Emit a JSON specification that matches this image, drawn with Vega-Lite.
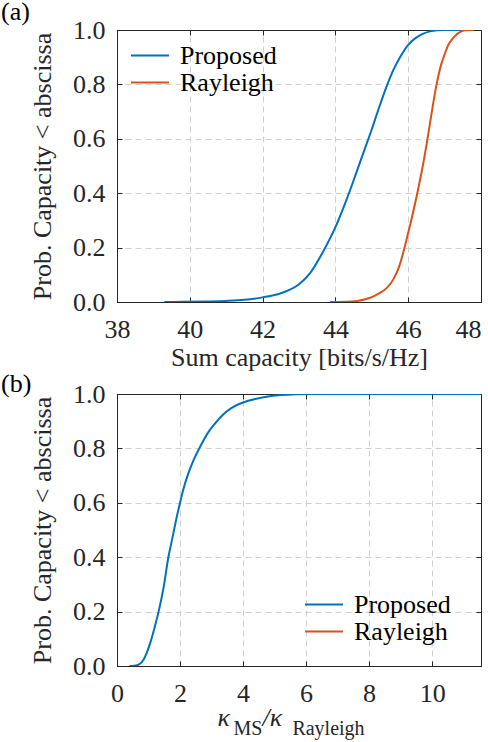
{
  "$schema": "https://vega.github.io/schema/vega-lite/v6.json",
  "autosize": "none",
  "padding": {"left": 117, "top": 30, "right": 371, "bottom": 712},
  "spacing": 92,
  "bounds": "flush",
  "datasets": {
    "capacity": [
      {"x": 39.3, "p": 0, "series": "Proposed"},
      {"x": 39.8, "p": 0.0005, "series": "Proposed"},
      {"x": 40.5, "p": 0.002, "series": "Proposed"},
      {"x": 41.0, "p": 0.004, "series": "Proposed"},
      {"x": 41.5, "p": 0.008, "series": "Proposed"},
      {"x": 42.0, "p": 0.017, "series": "Proposed"},
      {"x": 42.5, "p": 0.032, "series": "Proposed"},
      {"x": 43.0, "p": 0.065, "series": "Proposed"},
      {"x": 43.3, "p": 0.105, "series": "Proposed"},
      {"x": 43.6, "p": 0.17, "series": "Proposed"},
      {"x": 43.8, "p": 0.22, "series": "Proposed"},
      {"x": 44.0, "p": 0.275, "series": "Proposed"},
      {"x": 44.2, "p": 0.34, "series": "Proposed"},
      {"x": 44.4, "p": 0.41, "series": "Proposed"},
      {"x": 44.6, "p": 0.485, "series": "Proposed"},
      {"x": 44.8, "p": 0.56, "series": "Proposed"},
      {"x": 45.0, "p": 0.635, "series": "Proposed"},
      {"x": 45.2, "p": 0.715, "series": "Proposed"},
      {"x": 45.4, "p": 0.79, "series": "Proposed"},
      {"x": 45.6, "p": 0.855, "series": "Proposed"},
      {"x": 45.8, "p": 0.905, "series": "Proposed"},
      {"x": 46.0, "p": 0.945, "series": "Proposed"},
      {"x": 46.2, "p": 0.97, "series": "Proposed"},
      {"x": 46.4, "p": 0.986, "series": "Proposed"},
      {"x": 46.6, "p": 0.995, "series": "Proposed"},
      {"x": 46.8, "p": 0.999, "series": "Proposed"},
      {"x": 47.0, "p": 1.0, "series": "Proposed"},
      {"x": 47.6, "p": 1.0, "series": "Proposed"},
      {"x": 43.85, "p": 0, "series": "Rayleigh"},
      {"x": 44.3, "p": 0.001, "series": "Rayleigh"},
      {"x": 44.6, "p": 0.004, "series": "Rayleigh"},
      {"x": 45.0, "p": 0.018, "series": "Rayleigh"},
      {"x": 45.2, "p": 0.032, "series": "Rayleigh"},
      {"x": 45.4, "p": 0.05, "series": "Rayleigh"},
      {"x": 45.6, "p": 0.085, "series": "Rayleigh"},
      {"x": 45.75, "p": 0.13, "series": "Rayleigh"},
      {"x": 45.9, "p": 0.2, "series": "Rayleigh"},
      {"x": 46.0, "p": 0.255, "series": "Rayleigh"},
      {"x": 46.1, "p": 0.31, "series": "Rayleigh"},
      {"x": 46.25, "p": 0.4, "series": "Rayleigh"},
      {"x": 46.4, "p": 0.5, "series": "Rayleigh"},
      {"x": 46.53, "p": 0.6, "series": "Rayleigh"},
      {"x": 46.65, "p": 0.7, "series": "Rayleigh"},
      {"x": 46.78, "p": 0.8, "series": "Rayleigh"},
      {"x": 46.9, "p": 0.87, "series": "Rayleigh"},
      {"x": 47.0, "p": 0.91, "series": "Rayleigh"},
      {"x": 47.1, "p": 0.945, "series": "Rayleigh"},
      {"x": 47.2, "p": 0.965, "series": "Rayleigh"},
      {"x": 47.3, "p": 0.98, "series": "Rayleigh"},
      {"x": 47.42, "p": 0.992, "series": "Rayleigh"},
      {"x": 47.55, "p": 0.999, "series": "Rayleigh"},
      {"x": 47.8, "p": 1.0, "series": "Rayleigh"}
    ],
    "kappa": [
      {"x": 0.4, "p": 0, "series": "Proposed"},
      {"x": 0.55, "p": 0.001, "series": "Proposed"},
      {"x": 0.7, "p": 0.006, "series": "Proposed"},
      {"x": 0.85, "p": 0.025, "series": "Proposed"},
      {"x": 0.95, "p": 0.05, "series": "Proposed"},
      {"x": 1.05, "p": 0.083, "series": "Proposed"},
      {"x": 1.2, "p": 0.145, "series": "Proposed"},
      {"x": 1.32, "p": 0.2, "series": "Proposed"},
      {"x": 1.48, "p": 0.29, "series": "Proposed"},
      {"x": 1.63, "p": 0.4, "series": "Proposed"},
      {"x": 1.72, "p": 0.45, "series": "Proposed"},
      {"x": 1.81, "p": 0.5, "series": "Proposed"},
      {"x": 1.9, "p": 0.55, "series": "Proposed"},
      {"x": 2.0, "p": 0.6, "series": "Proposed"},
      {"x": 2.13, "p": 0.66, "series": "Proposed"},
      {"x": 2.27, "p": 0.71, "series": "Proposed"},
      {"x": 2.44, "p": 0.76, "series": "Proposed"},
      {"x": 2.61, "p": 0.8, "series": "Proposed"},
      {"x": 2.9, "p": 0.86, "series": "Proposed"},
      {"x": 3.1, "p": 0.89, "series": "Proposed"},
      {"x": 3.37, "p": 0.925, "series": "Proposed"},
      {"x": 3.65, "p": 0.95, "series": "Proposed"},
      {"x": 3.98, "p": 0.968, "series": "Proposed"},
      {"x": 4.35, "p": 0.981, "series": "Proposed"},
      {"x": 4.74, "p": 0.99, "series": "Proposed"},
      {"x": 5.2, "p": 0.996, "series": "Proposed"},
      {"x": 5.7, "p": 0.999, "series": "Proposed"},
      {"x": 6.2, "p": 1.0, "series": "Proposed"},
      {"x": 11.55, "p": 1.0, "series": "Proposed"}
    ]
  },
  "vconcat": [
    {
      "width": 364,
      "height": 272,
      "title": {"text": "(a)", "offset": -8, "dx": -116},
      "data": {"name": "capacity"},
      "layer": [
        {
          "mark": {"type": "line", "strokeWidth": 2, "clip": true, "interpolate": "monotone"},
          "encoding": {
            "x": {
              "field": "x", "type": "quantitative",
              "scale": {"domain": [38, 48], "nice": false, "zero": false},
              "axis": {
                "orient": "bottom", "values": [38, 40, 42, 44, 46, 48],
                "labelFont": "Liberation Serif",
                "labelAlign": {"condition": {"test": "datum.value === 48", "value": "right"}, "value": "center"},
                "title": "Sum capacity [bits/s/Hz]", "labelPadding": 19,
                "titleX": 182, "titleY": 63, "titleBaseline": "alphabetic", "titleAlign": "center"
              }
            },
            "y": {
              "field": "p", "type": "quantitative",
              "scale": {"domain": [0, 1], "nice": false},
              "axis": {
                "orient": "left", "values": [0, 0.2, 0.4, 0.6, 0.8, 1], "format": ".1f",
                "labelFont": "Liberation Serif",
                "title": "Prob. Capacity < abscissa", "labelPadding": 17,
                "titleX": -67, "titleY": 136, "titleBaseline": "alphabetic", "titleAlign": "center", "titleAngle": -90
              }
            },
            "color": {
              "field": "series", "type": "nominal",
              "scale": {"domain": ["Proposed", "Rayleigh"], "range": ["#0072BD", "#D95319"]},
              "legend": {"orient": "none", "legendX": 13, "legendY": 12}
            }
          }
        },
        {
          "mark": {"type": "line", "strokeOpacity": 0},
          "encoding": {
            "x": {
              "field": "x", "type": "quantitative",
              "axis": {"orient": "top", "values": [40, 42, 44, 46], "labels": false, "title": null, "grid": true}
            },
            "y": {
              "field": "p", "type": "quantitative",
              "axis": {"orient": "right", "values": [0.2, 0.4, 0.6, 0.8], "labels": false, "title": null, "grid": true}
            }
          }
        }
      ],
      "resolve": {"axis": {"x": "independent", "y": "independent"}}
    },
    {
      "width": 364,
      "height": 272,
      "title": {"text": "(b)", "offset": -16, "dx": -116},
      "data": {"name": "kappa"},
      "layer": [
        {
          "mark": {"type": "line", "strokeWidth": 2, "clip": true, "interpolate": "monotone"},
          "encoding": {
            "x": {
              "field": "x", "type": "quantitative",
              "scale": {"domain": [0, 11.55], "nice": false, "zero": false},
              "axis": {
                "orient": "bottom", "values": [0, 2, 4, 6, 8, 10],
                "labelFont": "Liberation Serif",
                "title": "κ\u00a0\u00a0\u00a0\u00a0\u00a0/κ", "titleFontStyle": "italic", "labelPadding": 19,
                "titleX": 100, "titleY": 59, "titleBaseline": "alphabetic", "titleAlign": "left"
              }
            },
            "y": {
              "field": "p", "type": "quantitative",
              "scale": {"domain": [0, 1], "nice": false},
              "axis": {
                "orient": "left", "values": [0, 0.2, 0.4, 0.6, 0.8, 1], "format": ".1f",
                "labelFont": "Liberation Serif",
                "title": "Prob. Capacity < abscissa", "labelPadding": 17,
                "titleX": -67, "titleY": 136, "titleBaseline": "alphabetic", "titleAlign": "center", "titleAngle": -90
              }
            },
            "color": {
              "field": "series", "type": "nominal",
              "scale": {"domain": ["Proposed", "Rayleigh"], "range": ["#0072BD", "#D95319"]},
              "legend": {"orient": "none", "legendX": 187, "legendY": 197}
            }
          }
        },
        {
          "mark": {"type": "line", "strokeOpacity": 0},
          "encoding": {
            "x": {
              "field": "x", "type": "quantitative",
              "axis": {
                "orient": "top", "values": [2, 4, 6, 8, 10], "labels": false, "grid": true,
                "title": "MS\u00a0\u00a0\u00a0\u00a0\u00a0\u00a0Rayleigh", "titleFontSize": 20, "titleX": 116, "titleY": 340,
                "titleBaseline": "alphabetic", "titleAlign": "left"
              }
            },
            "y": {
              "field": "p", "type": "quantitative",
              "axis": {"orient": "right", "values": [0.2, 0.4, 0.6, 0.8], "labels": false, "title": null, "grid": true}
            }
          }
        }
      ],
      "resolve": {"axis": {"x": "independent", "y": "independent"}}
    }
  ],
  "resolve": {"scale": {"color": "independent"}, "legend": {"color": "independent"}},
  "config": {
    "font": "Liberation Serif",
    "view": {"stroke": "#262626", "strokeWidth": 1},
    "axis": {
      "labelFont": "Liberation Serif", "labelFontSize": 26, "labelColor": "#262626",
      "labelFlush": false, "labelOverlap": false,
      "titleFont": "Liberation Serif", "titleFontSize": 26, "titleFontWeight": "normal", "titleColor": "#262626",
      "domain": true, "domainColor": "#262626", "domainWidth": 1,
      "ticks": true, "tickColor": "#262626", "tickSize": -5, "tickWidth": 1,
      "grid": false, "gridColor": "#d0d0d0", "gridDash": [6, 4], "gridWidth": 1
    },
    "legend": {
      "title": null, "symbolType": "stroke", "symbolSize": 1444, "symbolStrokeWidth": 2,
      "labelFont": "Liberation Serif", "labelFontSize": 26, "labelColor": "#000000",
      "labelOffset": 10, "rowPadding": 0, "clipHeight": 27, "padding": 0
    },
    "title": {
      "font": "Liberation Serif", "fontSize": 26, "fontWeight": "normal", "color": "#000000",
      "anchor": "start", "frame": "group", "baseline": "alphabetic"
    }
  }
}
